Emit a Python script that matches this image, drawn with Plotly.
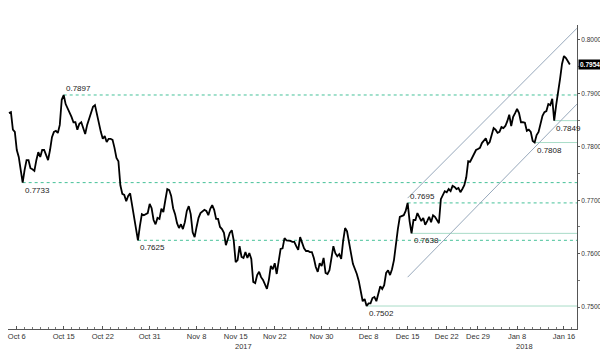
import pandas as pd
import plotly.graph_objects as go

# ---------------- data ----------------
# four readings per trading day (00:00, 06:00, 12:00, 18:00)
trading_days = [d for d in pd.bdate_range("2017-10-05", "2018-01-16")
                if d.strftime("%Y-%m-%d") not in ("2017-12-25", "2018-01-01")]
hours = [0, 6, 12, 18]

price = [
    0.7863, 0.7865, 0.7832, 0.7828,  # Oct 5
    0.7794, 0.7781, 0.7757, 0.7733,  # Oct 6
    0.7757, 0.7775, 0.7775, 0.7760,  # Oct 9
    0.7758, 0.7755, 0.7775, 0.7790,  # Oct 10
    0.7781, 0.7794, 0.7794, 0.7785,  # Oct 11
    0.7775, 0.7794, 0.7818, 0.7828,  # Oct 12
    0.7830, 0.7826, 0.7841, 0.7888,  # Oct 13
    0.7897, 0.7880, 0.7873, 0.7865,  # Oct 16
    0.7856, 0.7846, 0.7846, 0.7832,  # Oct 17
    0.7843, 0.7846, 0.7833, 0.7824,  # Oct 18
    0.7841, 0.7852, 0.7863, 0.7875,  # Oct 19
    0.7878, 0.7860, 0.7841, 0.7828,  # Oct 20
    0.7815, 0.7820, 0.7809, 0.7815,  # Oct 23
    0.7815, 0.7813, 0.7798, 0.7779,  # Oct 24
    0.7773, 0.7728, 0.7712, 0.7710,  # Oct 25
    0.7698, 0.7708, 0.7713, 0.7691,  # Oct 26
    0.7669, 0.7648, 0.7625, 0.7652,  # Oct 27
    0.7674, 0.7672, 0.7674, 0.7676,  # Oct 30
    0.7693, 0.7685, 0.7663, 0.7655,  # Oct 31
    0.7667, 0.7665, 0.7684, 0.7678,  # Nov 1
    0.7700, 0.7721, 0.7719, 0.7708,  # Nov 2
    0.7685, 0.7674, 0.7657, 0.7648,  # Nov 3
    0.7655, 0.7646, 0.7659, 0.7680,  # Nov 6
    0.7689, 0.7674, 0.7640, 0.7631,  # Nov 7
    0.7650, 0.7667, 0.7676, 0.7680,  # Nov 8
    0.7682, 0.7680, 0.7672, 0.7684,  # Nov 9
    0.7691, 0.7682, 0.7665, 0.7665,  # Nov 10
    0.7650, 0.7646, 0.7639, 0.7616,  # Nov 13
    0.7629, 0.7639, 0.7644, 0.7625,  # Nov 14
    0.7584, 0.7588, 0.7614, 0.7594,  # Nov 15
    0.7592, 0.7603, 0.7592, 0.7601,  # Nov 16
    0.7590, 0.7547, 0.7545, 0.7560,  # Nov 17
    0.7566, 0.7556, 0.7551, 0.7543,  # Nov 20
    0.7534, 0.7551, 0.7577, 0.7571,  # Nov 21
    0.7582, 0.7562, 0.7586, 0.7609,  # Nov 22
    0.7610, 0.7629, 0.7625, 0.7625,  # Nov 23
    0.7624, 0.7622, 0.7622, 0.7614,  # Nov 24
    0.7607, 0.7631, 0.7618, 0.7610,  # Nov 27
    0.7605, 0.7605, 0.7603, 0.7603,  # Nov 28
    0.7592, 0.7575, 0.7566, 0.7582,  # Nov 29
    0.7577, 0.7592, 0.7564, 0.7562,  # Nov 30
    0.7569, 0.7595, 0.7614, 0.7601,  # Dec 1
    0.7595, 0.7599, 0.7590, 0.7624,  # Dec 4
    0.7648, 0.7642, 0.7618, 0.7601,  # Dec 5
    0.7581, 0.7573, 0.7562, 0.7549,  # Dec 6
    0.7532, 0.7511, 0.7515, 0.7502,  # Dec 7
    0.7507, 0.7507, 0.7517, 0.7519,  # Dec 8
    0.7511, 0.7526, 0.7539, 0.7534,  # Dec 11
    0.7541, 0.7564, 0.7569, 0.7560,  # Dec 12
    0.7571, 0.7588, 0.7622, 0.7646,  # Dec 13
    0.7669, 0.7670, 0.7672, 0.7680,  # Dec 14
    0.7695, 0.7661, 0.7638, 0.7663,  # Dec 15
    0.7663, 0.7676, 0.7669, 0.7661,  # Dec 18
    0.7667, 0.7654, 0.7661, 0.7669,  # Dec 19
    0.7659, 0.7672, 0.7669, 0.7663,  # Dec 20
    0.7657, 0.7702, 0.7710, 0.7717,  # Dec 21
    0.7715, 0.7721, 0.7717, 0.7727,  # Dec 22
    0.7725, 0.7721, 0.7723, 0.7715,  # Dec 26
    0.7721, 0.7728, 0.7743, 0.7773,  # Dec 27
    0.7772, 0.7779, 0.7785, 0.7794,  # Dec 28
    0.7796, 0.7798, 0.7807, 0.7811,  # Dec 29
    0.7816, 0.7805, 0.7809, 0.7822,  # Jan 2
    0.7835, 0.7832, 0.7826, 0.7828,  # Jan 3
    0.7837, 0.7835, 0.7839, 0.7848,  # Jan 4
    0.7860, 0.7839, 0.7856, 0.7863,  # Jan 5
    0.7871, 0.7863, 0.7846, 0.7846,  # Jan 8
    0.7845, 0.7830, 0.7832, 0.7828,  # Jan 9
    0.7811, 0.7808, 0.7822, 0.7828,  # Jan 10
    0.7841, 0.7858, 0.7865, 0.7867,  # Jan 11
    0.7880, 0.7878, 0.7890, 0.7849,  # Jan 12
    0.7878, 0.7908, 0.7927, 0.7955,  # Jan 15
    0.7970, 0.7966, 0.7961, 0.7954,  # Jan 16
]

times = [d + pd.Timedelta(hours=h) for d in trading_days for h in hours]
n = min(len(times), len(price))
times, price = times[:n], price[:n]

# horizontal levels
level_labels = ["0.7897", "0.7733", "0.7625", "0.7695", "0.7638", "0.7502", "0.7808", "0.7849"]
level_starts = ["2017-10-16 00:00", "2017-10-06 18:00", "2017-10-27 12:00", "2017-12-15 00:00",
                "2017-12-15 12:00", "2017-12-07 18:00", "2018-01-10 06:00", "2018-01-12 18:00"]
level_values = [0.7897, 0.7733, 0.7625, 0.7695, 0.7638, 0.7502, 0.7808, 0.7849]
level_dashed = [True, True, True, True, False, False, False, False]
level_above = [True, False, False, True, False, False, False, False]

# trend channel
channel_x = ["2017-12-15 00:00", "2018-01-17 16:00"]
channel_upper = [0.7704, 0.8022]
channel_lower = [0.7556, 0.7880]

last_value = 0.7954

x_range = ["2017-10-04 21:00", "2018-01-17 16:00"]
y_range = [0.7459, 0.8028]
y_ticks = [0.75, 0.76, 0.77, 0.78, 0.79, 0.80]
x_tickvals = ["2017-10-06", "2017-10-16", "2017-10-23", "2017-10-31", "2017-11-08", "2017-11-15",
              "2017-11-22", "2017-11-30", "2017-12-08", "2017-12-15", "2017-12-22", "2017-12-29",
              "2018-01-08", "2018-01-16"]
x_ticktext = ["Oct 6", "Oct 15", "Oct 22", "Oct 31", "Nov 8", "Nov 15", "Nov 22", "Nov 30",
              "Dec 8", "Dec 15", "Dec 22", "Dec 29", "Jan 8", "Jan 16"]
year_labels = ["2017", "2018"]
year_x = ["2017-11-16 00:00", "2018-01-09 00:00"]

# ---------------- figure ----------------
FONT = "Liberation Sans Narrow, Liberation Sans, Arial, sans-serif"
DASH_COL = "#45c198"
SOLID_COL = "#a9dcc8"
CHAN_COL = "#97a8bb"

fig = go.Figure()

for lab, x0, v, dashed in zip(level_labels, level_starts, level_values, level_dashed):
    fig.add_trace(go.Scatter(
        x=[x0, x_range[1]], y=[v, v], mode="lines", hoverinfo="skip",
        line=dict(color=DASH_COL if dashed else SOLID_COL, width=1,
                  dash="3px,3px" if dashed else "solid"),
        showlegend=False))

fig.add_trace(go.Scatter(x=channel_x, y=channel_upper, mode="lines",
                         line=dict(color=CHAN_COL, width=1), showlegend=False))
fig.add_trace(go.Scatter(x=channel_x, y=channel_lower, mode="lines",
                         line=dict(color=CHAN_COL, width=1), showlegend=False))

fig.add_trace(go.Scatter(x=times, y=price, mode="lines",
                         line=dict(color="#000000", width=1.8), showlegend=False))

for lab, x0, v, above in zip(level_labels, level_starts, level_values, level_above):
    fig.add_annotation(x=x0, y=v, text=lab, showarrow=False, xanchor="left",
                       yanchor="bottom" if above else "top",
                       yshift=0 if above else -1,
                       font=dict(family=FONT, size=8, color="#222"))

fig.add_annotation(xref="paper", x=1, y=last_value, text="<b>0.7954</b>", showarrow=False,
                   xanchor="left", xshift=1, bgcolor="#000000", borderpad=1,
                   font=dict(family=FONT, size=6.5, color="#ffffff"))

for t, xv in zip(year_labels, year_x):
    fig.add_annotation(x=xv, yref="paper", y=-0.056, text=t, showarrow=False,
                       yanchor="middle", font=dict(family=FONT, size=7.5, color="#333"))

fig.update_layout(
    width=600, height=355,
    margin=dict(l=8, r=23, t=25, b=26, autoexpand=False),
    plot_bgcolor="white", paper_bgcolor="white",
    font=dict(family=FONT, size=7, color="#333"),
    showlegend=False,
    xaxis=dict(
        type="date", range=x_range, automargin=False,
        rangebreaks=[dict(bounds=["sat", "mon"]),
                     dict(values=["2017-12-25", "2018-01-01"])],
        tickvals=x_tickvals, ticktext=x_ticktext,
        showgrid=False, zeroline=False,
        showline=True, linecolor="#555", linewidth=1,
        ticks="inside", ticklen=3, tickcolor="#555",
        minor=dict(dtick=86400000, ticks="inside", ticklen=2, tickcolor="#777"),
        tickfont=dict(family=FONT, size=7.5, color="#333"),
    ),
    yaxis=dict(
        side="right", range=y_range, automargin=False,
        tickvals=y_ticks, ticktext=[f"{v:.4f}" for v in y_ticks],
        showgrid=False, zeroline=False,
        showline=True, linecolor="#555", linewidth=1,
        ticks="outside", ticklen=2, tickcolor="#555",
        minor=dict(dtick=0.005, ticks="outside", ticklen=2, tickcolor="#777"),
        tickfont=dict(family=FONT, size=6.5, color="#333"),
    ),
)

fig.write_html("out.html", config={"displayModeBar": False},
               post_script="document.body.style.margin='0';document.body.style.padding='0';")
